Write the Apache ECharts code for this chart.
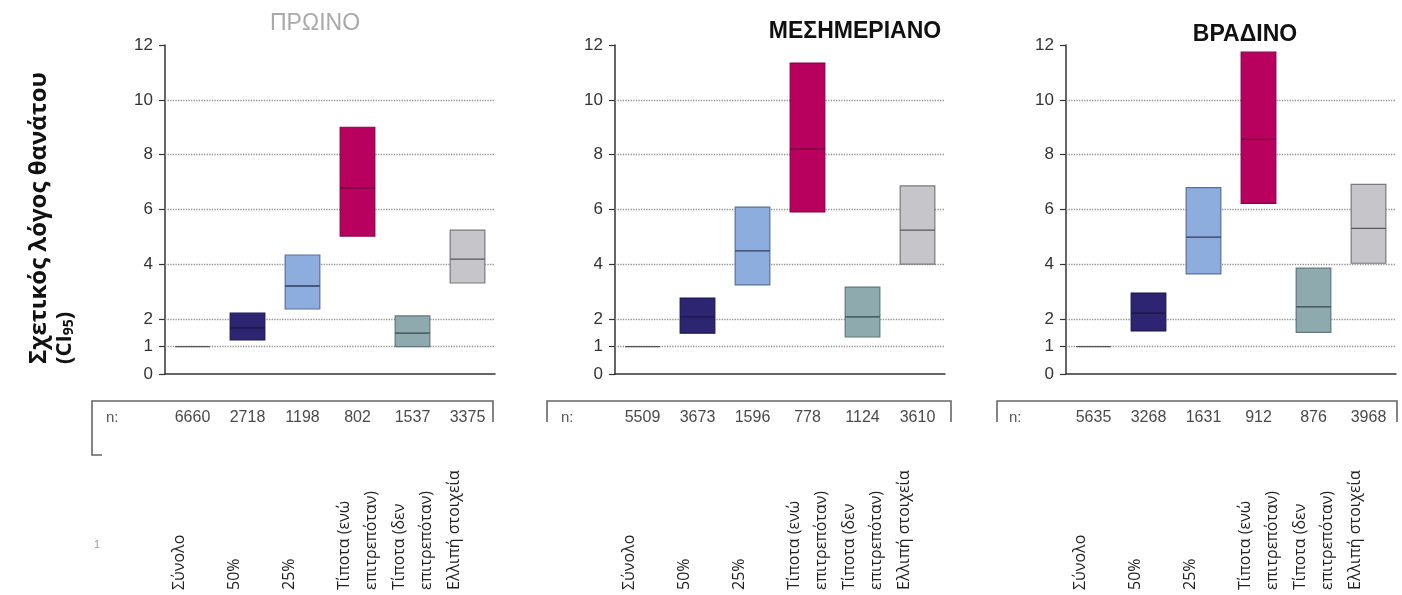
<!DOCTYPE html>
<html>
<head>
<meta charset="utf-8">
<script src="https://cdn.jsdelivr.net/npm/echarts@6/dist/echarts.min.js"></script>
<style>
  html, body { margin: 0; padding: 0; background: #fff; }
  #chart { width: 1402px; height: 595px; }
</style>
</head>
<body>
<div id="chart"></div>
<script>
// Categories shown under each panel
const categories = ['Σύνολο', '50%', '25%', 'Τίποτα (ενώ\nεπιτρεπόταν)', 'Τίποτα (δεν\nεπιτρεπόταν)', 'Ελλιπή στοιχεία'];

// Panel titles
const panelTitles = ['ΠΡΩΙΝΟ', 'ΜΕΣΗΜΕΡΙΑΝΟ', 'ΒΡΑΔΙΝΟ'];

// Y-axis tick values (uneven steps)
const yTicks = [0, 1, 2, 4, 6, 8, 10, 12];
const gridValues = [1, 2, 4, 6, 8, 10];

// Relative risk of death: lower CI, estimate, upper CI
const morningLow  = [1, 1.24, 2.37, 5.03, 1.00, 3.32];
const morningMid  = [1, 1.68, 3.21, 6.78, 1.49, 4.19];
const morningHigh = [1, 2.22, 4.34, 9.00, 2.12, 5.25];

const noonLow  = [1, 1.49, 3.25, 5.91, 1.35, 4.01];
const noonMid  = [1, 2.08, 4.49, 8.20, 2.08, 5.25];
const noonHigh = [1, 2.77, 6.09, 11.34, 3.17, 6.86];

const eveningLow  = [1, 1.57, 3.65, 6.22, 1.52, 4.04];
const eveningMid  = [1, 2.22, 4.99, 8.56, 2.45, 5.31];
const eveningHigh = [1, 2.95, 6.80, 11.74, 3.86, 6.92];

// Sample sizes per category
const morningN = [6660, 2718, 1198, 802, 1537, 3375];
const noonN    = [5509, 3673, 1596, 778, 1124, 3610];
const eveningN = [5635, 3268, 1631, 912, 876, 3968];

const panels = [
  { low: morningLow, mid: morningMid, high: morningHigh, n: morningN },
  { low: noonLow, mid: noonMid, high: noonHigh, n: noonN },
  { low: eveningLow, mid: eveningMid, high: eveningHigh, n: eveningN }
];

const boxColors = [
  { fill: '#555555', stroke: '#555555', med: '#555555' },
  { fill: '#2d2472', stroke: '#1d1752', med: '#1a1545' },
  { fill: '#8eaddf', stroke: '#5b6f98', med: '#2f3c5c' },
  { fill: '#b8005f', stroke: '#8c0049', med: '#6e003a' },
  { fill: '#8faaae', stroke: '#5f777b', med: '#34474a' },
  { fill: '#c6c6ca', stroke: '#7a7a7e', med: '#55555a' }
];

const gridLefts = [165, 615, 1066];
const sans = 'Liberation Sans, Arial, sans-serif';
const labelFont = 'Open Sans, Noto Sans, sans-serif';

const grids = [], xAxes = [], yAxes = [], series = [];

panels.forEach((p, i) => {
  grids.push({ left: gridLefts[i], top: 45, width: 330, height: 329, outerBoundsMode: 'none', containLabel: false });

  // axis with ticks and the n row
  xAxes.push({
    type: 'category', gridIndex: i, data: categories, position: 'bottom',
    axisLine: { lineStyle: { color: '#333', width: 1.5 } },
    axisTick: { alignWithLabel: true, length: 7, lineStyle: { color: '#333', width: 1.2 } },
    axisLabel: {
      interval: 0, margin: 36, fontFamily: sans, fontSize: 16, color: '#4a4a4a',
      formatter: (v, idx) => String(p.n[idx])
    },
    splitLine: { show: false }
  });
  // axis carrying the rotated category names
  xAxes.push({
    type: 'category', gridIndex: i, data: categories, position: 'bottom',
    axisLine: { show: false }, axisTick: { show: false },
    axisLabel: {
      interval: 0, rotate: 90, align: 'left', verticalAlign: 'middle',
      margin: 216, lineHeight: 27, fontFamily: labelFont, fontSize: 16, color: '#222',
      formatter: v => (v.indexOf('\n') >= 0 ? v : v + '\n ')
    }
  });

  yAxes.push({
    type: 'value', gridIndex: i, min: 0, max: 12, interval: 1,
    axisLine: { show: true, lineStyle: { color: '#333', width: 1.5 } },
    axisTick: { show: true, length: 6, customValues: yTicks, lineStyle: { color: '#333', width: 1.2 } },
    axisLabel: { customValues: yTicks, margin: 12, fontFamily: sans, fontSize: 17, color: '#333' },
    splitLine: { show: false }
  });

  // horizontal reference lines, kept behind the boxes
  series.push({
    type: 'line', xAxisIndex: i * 2, yAxisIndex: i, data: [], z: 1, silent: true,
    markLine: {
      z: 1, silent: true, symbol: ['none', 'none'], animation: false,
      label: { show: false },
      lineStyle: { color: '#8f8f8f', type: 'dotted', width: 1.3 },
      data: gridValues.map(v => ({ yAxis: v }))
    }
  });

  // confidence boxes with estimate line
  series.push({
    type: 'custom', xAxisIndex: i * 2, yAxisIndex: i, z: 6,
    data: categories.map((c, k) => [k, p.low[k], p.mid[k], p.high[k]]),
    encode: { x: 0, y: [1, 2, 3] },
    renderItem: (params, api) => {
      const k = api.value(0);
      const pLo = api.coord([k, api.value(1)]);
      const pMd = api.coord([k, api.value(2)]);
      const pHi = api.coord([k, api.value(3)]);
      const w = api.size([1, 0])[0] * 0.63;
      const col = boxColors[params.dataIndex];
      const children = [];
      if (pLo[1] - pHi[1] > 0.5) {
        children.push({
          type: 'rect',
          shape: { x: pLo[0] - w / 2, y: pHi[1], width: w, height: pLo[1] - pHi[1] },
          style: { fill: col.fill, stroke: col.stroke, lineWidth: 1.2 }
        });
      }
      children.push({
        type: 'line',
        shape: { x1: pMd[0] - w / 2, y1: pMd[1], x2: pMd[0] + w / 2, y2: pMd[1] },
        style: { stroke: col.med, lineWidth: 1.3 }
      });
      return { type: 'group', children };
    }
  });
});

const titleStyles = [
  { x: 315, y: 24, font: 'normal 23px ' + sans, fill: '#a9a9a9' },
  { x: 855, y: 32, font: 'bold 23px ' + sans, fill: '#111' },
  { x: 1245, y: 35, font: 'bold 23px ' + sans, fill: '#111' }
];

const graphics = [];
panelTitles.forEach((t, i) => {
  const s = titleStyles[i];
  graphics.push({
    type: 'text', x: s.x, y: s.y, silent: true,
    style: { text: t, font: s.font, fill: s.fill, align: 'center', verticalAlign: 'middle' }
  });
});

// frames around the n rows
const frameStroke = { stroke: '#666', lineWidth: 1.6, fill: 'none' };
graphics.push(
  { type: 'polyline', shape: { points: [[102, 455], [92, 455], [92, 401], [493, 401], [493, 422]] }, style: frameStroke },
  { type: 'polyline', shape: { points: [[547, 422], [547, 401], [951, 401], [951, 422]] }, style: frameStroke },
  { type: 'polyline', shape: { points: [[997, 422], [997, 401], [1397, 401], [1397, 422]] }, style: frameStroke }
);
[106, 561, 1009].forEach(x => {
  graphics.push({
    type: 'text', x: x, y: 418, style: { text: 'n:', font: '15px ' + sans, fill: '#555', verticalAlign: 'middle' }
  });
});
graphics.push({
  type: 'text', x: 97, y: 545, style: { text: '1', font: '11px ' + sans, fill: '#999', align: 'center', verticalAlign: 'middle' }
});

// vertical axis title
graphics.push({
  type: 'text', x: 39, y: 364, rotation: Math.PI / 2,
  style: { text: 'Σχετικός λόγος θανάτου', font: 'bold 24px ' + labelFont, fill: '#111', align: 'left', verticalAlign: 'middle' }
});
graphics.push({
  type: 'text', x: 65, y: 364, rotation: Math.PI / 2,
  style: {
    text: '(CI{s|95})', font: 'bold 22px ' + labelFont, fill: '#111', align: 'left', verticalAlign: 'middle',
    rich: { s: { fontSize: 14, fontWeight: 'bold', fontFamily: labelFont, verticalAlign: 'bottom', lineHeight: 15, fill: '#111' } }
  }
});

const chart = echarts.init(document.getElementById('chart'), null, { renderer: 'canvas' });
chart.setOption({
  animation: false,
  backgroundColor: '#fff',
  grid: grids,
  xAxis: xAxes,
  yAxis: yAxes,
  series: series,
  graphic: graphics
});
</script>
</body>
</html>
